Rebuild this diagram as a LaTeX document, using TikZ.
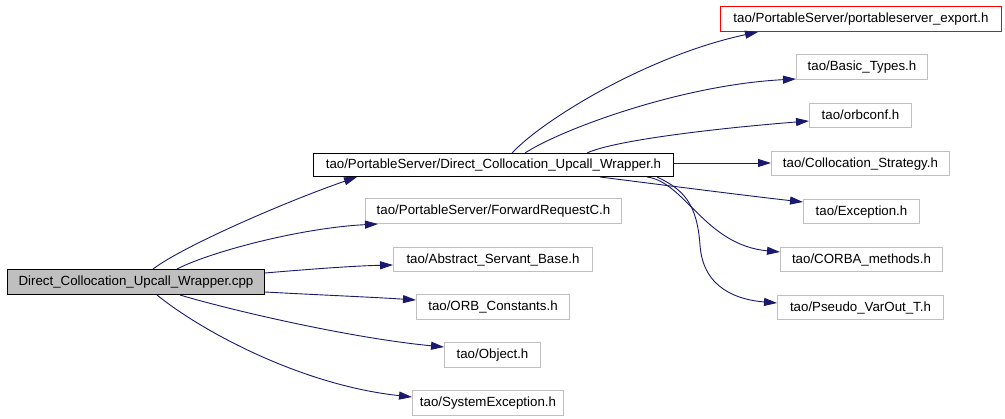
\documentclass[tikz,border=0pt]{standalone}
\usepackage{fontspec}
\setmainfont{Liberation Sans}
\usetikzlibrary{arrows.meta,calc}
\definecolor{edgec}{HTML}{191970}
\definecolor{boxgray}{HTML}{BFBFBF}
\begin{document}
\begin{tikzpicture}[x=1pt,y=-1pt,
  fbox/.style={draw=boxgray,line width=1pt,anchor=north west,inner sep=0pt,
    font=\fontsize{13.3}{15}\selectfont,text height=9.5pt,text depth=1.5pt,align=center},
  bbox/.style={fbox,draw=black},
  rbox/.style={fbox,draw=red},
  cbox/.style={fbox,draw=black,fill=boxgray},
  edge/.style={draw=edgec,line width=0.9pt,-{Triangle[length=13pt,width=8pt]},fill=none},
]
\useasboundingbox (0,0) rectangle (1005,419);
\fill[white] (0,0) rectangle (1005,419);

\node[cbox,minimum width=257pt,minimum height=25pt] (cpp) at (7,269) {Direct\_Collocation\_Upcall\_Wrapper.cpp};
\node[bbox,minimum width=360pt,minimum height=23pt] (dcuw) at (313,153) {tao/PortableServer/Direct\_Collocation\_Upcall\_Wrapper.h};
\node[rbox,minimum width=281pt,minimum height=25pt] (pse) at (720,6) {tao/PortableServer/portableserver\_export.h};
\node[fbox,minimum width=131pt,minimum height=25pt] (bt) at (796,54) {tao/Basic\_Types.h};
\node[fbox,minimum width=102pt,minimum height=24pt] (orbc) at (809,103) {tao/orbconf.h};
\node[fbox,minimum width=178pt,minimum height=24pt] (cs) at (771,151) {tao/Collocation\_Strategy.h};
\node[fbox,minimum width=116pt,minimum height=24pt] (exc) at (803,199) {tao/Exception.h};
\node[fbox,minimum width=162pt,minimum height=24pt] (cm) at (780,247) {tao/CORBA\_methods.h};
\node[fbox,minimum width=166pt,minimum height=24pt] (pvo) at (777,295) {tao/Pseudo\_VarOut\_T.h};
\node[fbox,minimum width=256pt,minimum height=25pt] (fwd) at (365,198) {tao/PortableServer/ForwardRequestC.h};
\node[fbox,minimum width=199pt,minimum height=24pt] (asb) at (393,247) {tao/Abstract\_Servant\_Base.h};
\node[fbox,minimum width=153pt,minimum height=25pt] (orbk) at (416,294) {tao/ORB\_Constants.h};
\node[fbox,minimum width=96pt,minimum height=25pt] (obj) at (444,342) {tao/Object.h};
\node[fbox,minimum width=151pt,minimum height=25pt] (sys) at (412,390) {tao/SystemException.h};

% edges from cpp
\path[edge] ($(cpp.north west)+(146,0)$) .. controls (185,245) and (290,200) .. ($(dcuw.south west)+(44,0)$);
\path[edge] ($(cpp.north west)+(170,0)$) .. controls (210,252) and (300,228) .. ($(fwd.south west)+(13,0)$);
\path[edge] ($(cpp.north east)+(0,4)$) .. controls (300,270) and (350,266) .. ($(asb.north west)+(0,18)$);
\path[edge] ($(cpp.south east)+(0,-3)$) .. controls (320,295) and (370,297) .. ($(orbk.north west)+(0,6)$);
\path[edge] ($(cpp.south west)+(173,0)$) .. controls (230,310) and (350,338) .. ($(obj.north west)+(0,5)$);
\path[edge] ($(cpp.south west)+(150,0)$) .. controls (200,330) and (300,385) .. ($(sys.north west)+(0,7)$);

% edges from dcuw
\path[edge] ($(dcuw.north west)+(199,0)$) .. controls (545,118) and (650,55) .. ($(pse.south west)+(38,0)$);
\path[edge] ($(dcuw.north west)+(212,0)$) .. controls (560,130) and (680,85) .. ($(bt.south west)+(0,-1)$);
\path[edge] ($(dcuw.north west)+(274,0)$) .. controls (615,140) and (720,128) .. ($(orbc.north west)+(0,18)$);
\path[edge] ($(dcuw.north east)+(0,10)$) -- ($(cs.north west)+(0,12)$);
\path[edge] ($(dcuw.south west)+(287,0)$) .. controls (640,182) and (740,195) .. ($(exc.north west)+(0,3)$);
\path[edge] ($(dcuw.south west)+(334,0)$) .. controls (685,182) and (705,245) .. ($(cm.north west)+(0,5)$);
\path[edge] ($(dcuw.south west)+(344,0)$) .. controls (685,190) and (697,205) .. (700,245) .. controls (703,290) and (740,300) .. ($(pvo.north west)+(0,8)$);
\end{tikzpicture}
\end{document}
